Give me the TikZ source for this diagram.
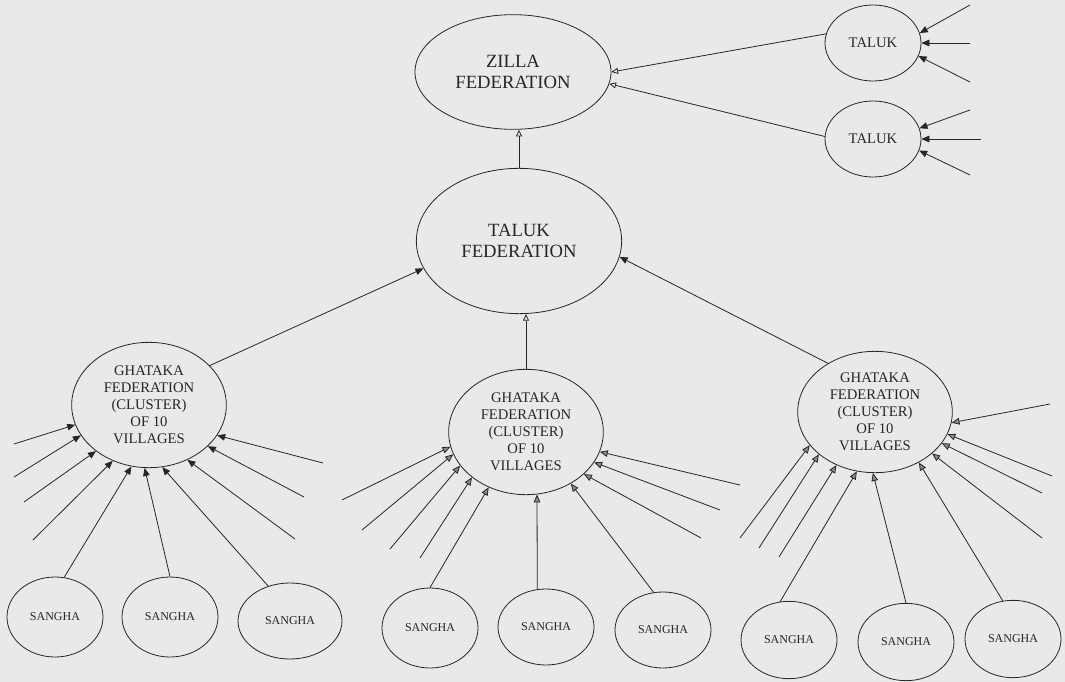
\documentclass[tikz,border=0pt]{standalone}
\usepackage{fontspec}
\setmainfont{Liberation Serif}
\usetikzlibrary{arrows.meta,shapes.geometric}
\definecolor{paper}{HTML}{E9E9E9}
\definecolor{ink}{HTML}{262626}
\definecolor{tipgray}{HTML}{8A8A8A}
\tikzset{
  fed/.style={ellipse,draw=ink,line width=0.6pt,inner sep=0pt,align=center,text=ink},
  ghat/.style={fed,minimum width=116pt,minimum height=94pt,font=\fontsize{11}{12.8}\selectfont},
  leaf/.style={fed,minimum width=72pt,minimum height=60pt,font=\fontsize{9}{10}\selectfont},
  arr/.style={-{Triangle[length=6pt,width=5pt]},line width=0.6pt,color=ink},
  greyarr/.style={-{Triangle[length=6pt,width=5pt,fill=tipgray]},line width=0.6pt,color=ink},
  openarr/.style={-{Triangle[open,length=5pt,width=4.5pt]},line width=0.6pt,color=ink}
}
\begin{document}
\begin{tikzpicture}[x=0.75pt,y=-0.75pt]
  \fill[paper] (0,0) rectangle (1065,682);
  \useasboundingbox (0,0) rectangle (1065,682);
  % district and taluk level
  \node[fed,minimum width=147pt,minimum height=86pt,font=\fontsize{14}{15.5}\selectfont] (zilla) at (513,72) {ZILLA\\FEDERATION};
  \node[fed,minimum width=72pt,minimum height=57pt,font=\fontsize{11}{12}\selectfont] (t1) at (873,43) {TALUK};
  \node[fed,minimum width=72pt,minimum height=57pt,font=\fontsize{11}{12}\selectfont] (t2) at (873,139) {TALUK};
  \node[fed,minimum width=154pt,minimum height=109pt,font=\fontsize{14}{15.5}\selectfont] (tf) at (519,241) {TALUK\\FEDERATION};
  \draw[openarr] (t1.169) -- (zilla.0);
  \draw[openarr] (t2.177) -- (zilla.353);
  \draw[openarr] (tf.north) -- (tf.north |- zilla.south);
  \foreach \ang/\x/\y in {12/970/5, 0/970/43, 344/970/82}
    {\coordinate (t1in\ang) at (\x,\y); \draw[arr] (t1in\ang) -- (t1.\ang);}
  \foreach \ang/\x/\y in {13/970/110, 0/981/139, 346/970/175}
    {\coordinate (t2in\ang) at (\x,\y); \draw[arr] (t2in\ang) -- (t2.\ang);}

  % ghataka clusters
  \node[ghat] (gl) at (149,405) {GHATAKA\\FEDERATION\\(CLUSTER)\\OF 10\\VILLAGES};
  \node[ghat] (gm) at (526,432) {GHATAKA\\FEDERATION\\(CLUSTER)\\OF 10\\VILLAGES};
  \node[ghat,minimum height=91pt] (gr) at (875,412) {GHATAKA\\FEDERATION\\(CLUSTER)\\OF 10\\VILLAGES};
  \draw[arr] (gl.33) -- (tf.196);
  \draw[openarr] (gm.north) -- (gm.north |- tf.south);
  \draw[arr] (gr.134) -- (tf.351);

  % sanghas
  \node[leaf] (s1) at (55,617) {SANGHA};
  \node[leaf] (s2) at (170,617) {SANGHA};
  \node[leaf,minimum width=78pt,minimum height=57pt] (s3) at (290,621) {SANGHA};
  \node[leaf] (s4) at (430,628) {SANGHA};
  \node[leaf,minimum height=57pt] (s5) at (546,627) {SANGHA};
  \node[leaf,minimum height=57pt] (s6) at (663,630) {SANGHA};
  \node[leaf,minimum height=58pt] (s7) at (789,640) {SANGHA};
  \node[leaf,minimum height=58pt] (s8) at (906,642) {SANGHA};
  \node[leaf,minimum height=58pt] (s9) at (1013,639) {SANGHA};
  \draw[arr] (s1.77) -- (gl.254);
  \draw[arr] (s2.north) -- (gl.266);
  \draw[arr] (s3.122) -- (gl.282);
  \draw[greyarr] (s4.north) -- (gm.236);
  \draw[greyarr] (s5.103) -- (gm.280);
  \draw[greyarr] (s6.104) -- (gm.311);
  \draw[greyarr] (s7.103) -- (gr.253);
  \draw[greyarr] (s8.north) -- (gr.268);
  \draw[greyarr] (s9.105) -- (gr.311);

  % sanghas not shown
  \foreach \ang/\x/\y in {195/14/444, 204/14/477, 221/24/502, 237/33/540, 305/295/539, 325/304/497, 336/323/463}
    {\coordinate (glin\ang) at (\x,\y); \draw[arr] (glin\ang) -- (gl.\ang);}
  \foreach \ang/\x/\y in {191/342/500, 197/362/530, 207/390/549, 220/420/558, 324/701/538, 336/720/510, 345/740/485}
    {\coordinate (gmin\ang) at (\x,\y); \draw[greyarr] (gmin\ang) -- (gm.\ang);}
  \foreach \ang/\x/\y in {207/740/538, 217/759/548, 234/779/557, 324/1042/538, 335/1042/493, 343/1052/476, 352/1050/404}
    {\coordinate (grin\ang) at (\x,\y); \draw[greyarr] (grin\ang) -- (gr.\ang);}
\end{tikzpicture}
\end{document}
